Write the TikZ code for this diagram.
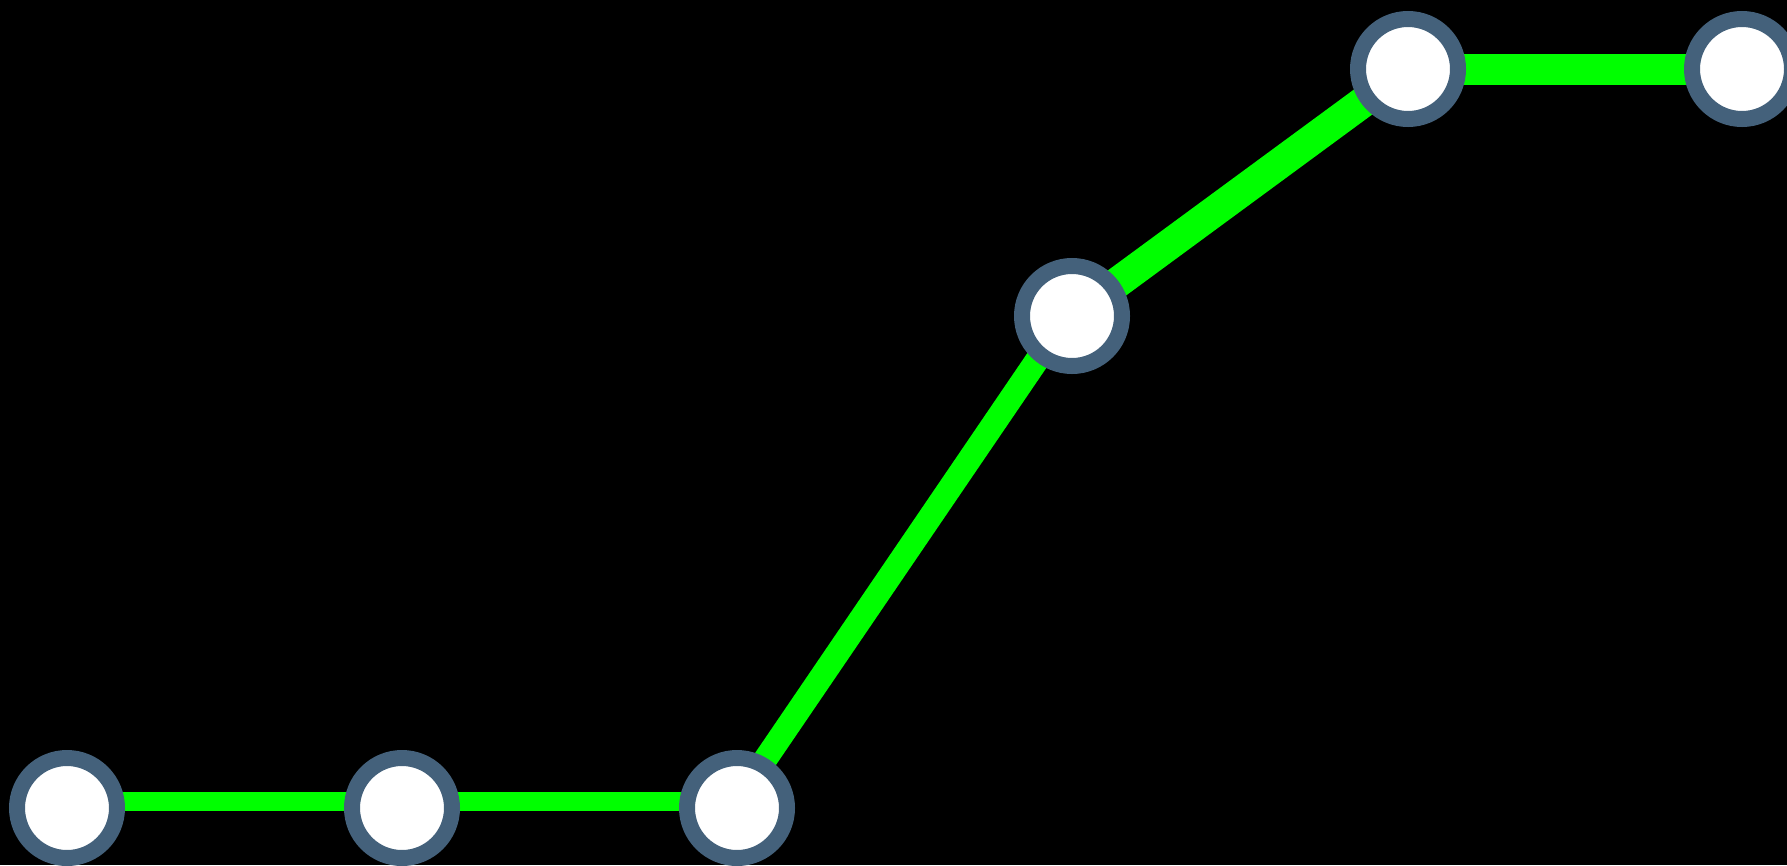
\documentclass[tikz,border=0pt]{standalone}
\usepackage{tikz}
\usetikzlibrary{backgrounds}
\definecolor{colRing}{RGB}{68,97,123}
\definecolor{colTrack}{RGB}{0,255,0}
\tikzset{
  stop/.style   = {circle, draw=colRing, fill=white, line width=0.16cm,
                   minimum size=1.0cm, inner sep=0pt},
  thinseg/.style = {draw=colTrack, line width=0.185cm},
  midseg/.style  = {draw=colTrack, line width=0.24cm},
  wideseg/.style = {draw=colTrack, line width=0.31cm},
}
\begin{document}
\begin{tikzpicture}
\useasboundingbox (0,0) rectangle (17.87,8.65);
\clip (0,0) rectangle (17.87,8.65);

%% ── Stops ─────────────────────────────────────────────────
\node[stop] (s1) at (0.67,0.57)  {};
\node[stop] (s2) at (4.02,0.57)  {};
\node[stop] (s3) at (7.37,0.57)  {};
\node[stop] (s4) at (10.72,5.49) {};
\node[stop] (s5) at (14.08,7.96) {};
\node[stop] (s6) at (17.42,7.96) {};

%% ── Track (behind the stops) ──────────────────────────────
\begin{scope}[on background layer]
  \fill[black] (0,0) rectangle (17.87,8.65);
  \draw[thinseg] ([yshift=0.065cm]s1.center) -- ([yshift=0.065cm]s2.center);
  \draw[thinseg] ([yshift=0.065cm]s2.center) -- ([yshift=0.065cm]s3.center);
  \draw[midseg]  ([shift={(-0.033,0.023)}]s3.center) -- ([shift={(-0.033,0.023)}]s4.center);
  \draw[wideseg] (s4.center) -- (s5.center);
  \draw[wideseg] (s5.center) -- (s6.center);
\end{scope}

\end{tikzpicture}
\end{document}
